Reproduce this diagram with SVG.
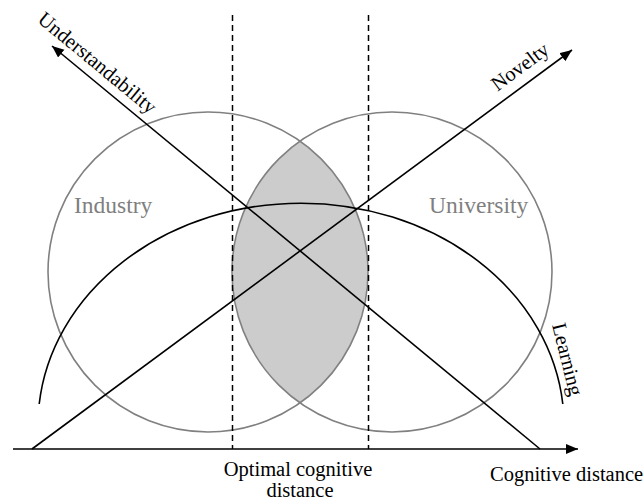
<svg xmlns="http://www.w3.org/2000/svg" width="644" height="502" viewBox="0 0 644 502">
  <style>
    .circle { fill: none; stroke: #808080; stroke-width: 1.6; }
    .lens { fill: #cccccc; stroke: none; }
    .dash { stroke: #000; stroke-width: 1.5; stroke-dasharray: 6 4; fill: none; }
    .line { stroke: #000; stroke-width: 1.6; fill: none; }
    .lbl { font-family: "Liberation Serif", "Times New Roman", serif; font-size: 20.5px; fill: #000; }
    .set { font-family: "Liberation Serif", "Times New Roman", serif; font-size: 23.5px; fill: #7f7f7f; }
  </style>
  <defs>
    <marker id="arrow" markerUnits="userSpaceOnUse" markerWidth="13" markerHeight="11" refX="12" refY="5" orient="auto">
      <path d="M0,0 L12,5 L0,10 z" fill="#000"/>
    </marker>
  </defs>
  <rect width="644" height="502" fill="#fff"/>

  <!-- overlap of the two sets -->
  <g id="overlap">
    <path class="lens" d="M300 141.5 A160 160 0 0 1 300 402.5 A160 160 0 0 1 300 141.5 Z"/>
  </g>

  <g id="industry">
    <circle class="circle" cx="208" cy="272" r="160"/>
    <text class="set" x="74" y="213">Industry</text>
  </g>

  <g id="university">
    <circle class="circle" cx="392" cy="272" r="160"/>
    <text class="set" x="429" y="213">University</text>
  </g>

  <g id="connectors">
    <line class="dash" x1="232.5" y1="15" x2="232.5" y2="449"/>
    <line class="dash" x1="368.5" y1="15" x2="368.5" y2="449"/>
    <!-- cognitive distance axis -->
    <line class="line" x1="13" y1="449" x2="578" y2="449" marker-end="url(#arrow)"/>
    <!-- understandability falls with distance -->
    <line class="line" x1="540" y1="449" x2="52" y2="46" marker-end="url(#arrow)"/>
    <!-- novelty rises with distance -->
    <line class="line" x1="32" y1="449" x2="572" y2="50" marker-end="url(#arrow)"/>
    <!-- learning curve -->
    <path class="line" d="M39.2 404 A263 222 0 0 1 562.8 404"/>
  </g>

  <g id="labels">
    <text class="lbl" text-anchor="middle" transform="translate(93 68) rotate(39.6)">Understandability</text>
    <text class="lbl" text-anchor="middle" transform="translate(524 72) rotate(-36.5)">Novelty</text>
    <text class="lbl" text-anchor="middle" transform="translate(561 361) rotate(76)">Learning</text>
    <text class="lbl" text-anchor="middle" x="298" y="476">Optimal cognitive</text>
    <text class="lbl" text-anchor="middle" x="300" y="497">distance</text>
    <text class="lbl" x="490" y="481">Cognitive distance</text>
  </g>
</svg>
